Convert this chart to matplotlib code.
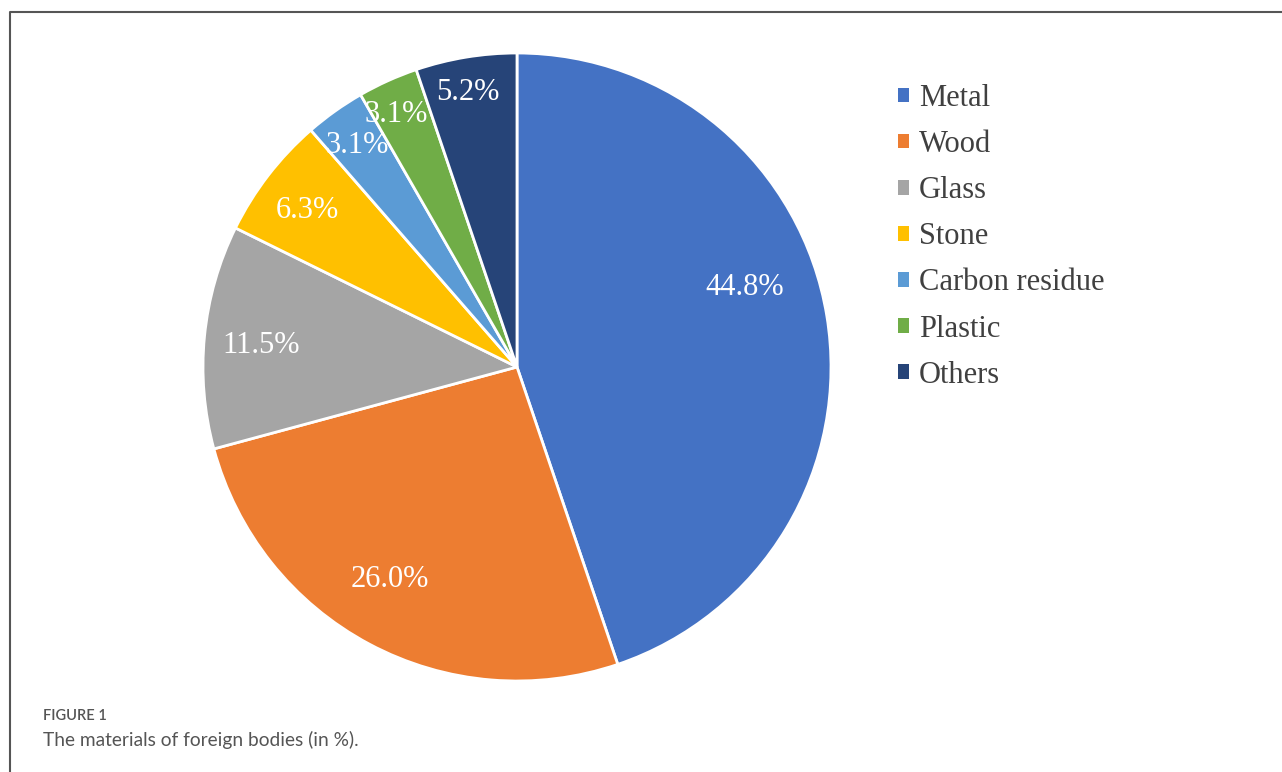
import matplotlib
matplotlib.use("Agg")
import matplotlib.pyplot as plt
from matplotlib.patches import Patch
from matplotlib.lines import Line2D
import numpy as np

categories = ["Metal", "Wood", "Glass", "Stone", "Carbon residue", "Plastic", "Others"]
values = [44.8, 26.0, 11.5, 6.3, 3.1, 3.1, 5.2]
colors = ["#4472C4", "#ED7D31", "#A5A5A5", "#FFC000", "#5B9BD5", "#70AD47", "#264478"]

# label layout (radial fraction, angle offset in degrees) to mimic Excel best-fit
label_r = [0.77, 0.78, 0.82, 0.84, 0.88, 0.90, 0.90]
label_dang = [10.6, -3.3, 0.0, 0.3, 0.0, 0.9, 0.6]

W, H = 1282, 772
fig = plt.figure(figsize=(W / 100, H / 100), dpi=100)

cx, cy, R = 517, 367, 314
ax = fig.add_axes([(cx - R) / W, (H - cy - R) / H, 2 * R / W, 2 * R / H])
wedges, _ = ax.pie(values, colors=colors, startangle=90, counterclock=False,
                   wedgeprops=dict(edgecolor="white", linewidth=2))
ax.set_xlim(-1, 1)
ax.set_ylim(-1, 1)
ax.set_aspect("equal")
ax.axis("off")

serif = ["Liberation Serif", "DejaVu Serif"]
for w, v, r, da in zip(wedges, values, label_r, label_dang):
    ang = np.deg2rad((w.theta1 + w.theta2) / 2 + da)
    ax.text(r * np.cos(ang), r * np.sin(ang), f"{v:.1f}%", ha="center", va="center_baseline",
            color="white", fontsize=22, family=serif)

handles = [Patch(facecolor=c, edgecolor="none") for c in colors]
leg = fig.legend(handles, categories, loc="upper left", bbox_to_anchor=(898 / W, 1 - 84 / H),
                 frameon=False, prop=dict(family=serif, size=22), labelcolor="#404040",
                 handlelength=0.36, handleheight=0.36, handletextpad=0.33,
                 labelspacing=0.56, borderpad=0, borderaxespad=0)

# frame
fig.add_artist(Line2D([10 / W, 10 / W, 1.0], [0.0, 1 - 12 / H, 1 - 12 / H],
                      transform=fig.transFigure, color="#555555", lw=1.5))

fig.text(43 / W, 1 - 716 / H, "FIGURE 1", fontsize=10.5, fontweight="semibold",
         color="#555555", family="Lato", va="center", ha="left")
fig.text(43 / W, 1 - 740 / H, "The materials of foreign bodies (in %).", fontsize=13.8,
         color="#555555", family="Lato", va="center", ha="left")

fig.savefig("out.png", dpi=100)
